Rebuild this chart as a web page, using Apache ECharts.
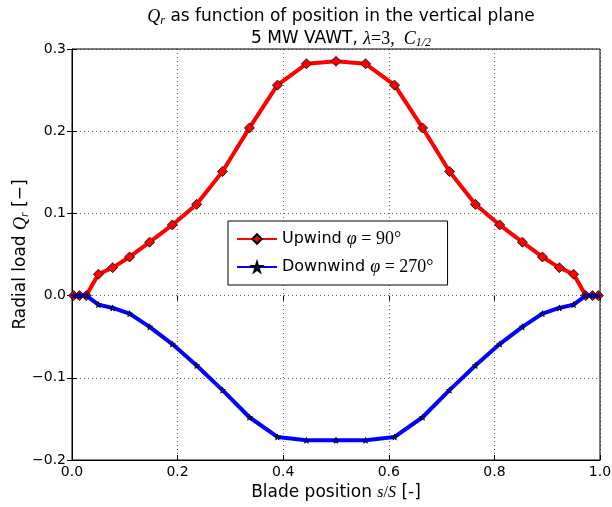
<!DOCTYPE html>
<html>
<head>
<meta charset="utf-8">
<script src="https://cdn.jsdelivr.net/npm/echarts@6/dist/echarts.min.js"></script>
<style>
  html, body { margin: 0; padding: 0; background: #fff; }
  #chart { width: 612px; height: 507px; }
</style>
</head>
<body>
<div id="chart"></div>
<script>
// blade position s/S of each station
const bladePos = [0.003, 0.014, 0.027, 0.05, 0.077, 0.109, 0.147, 0.19, 0.236, 0.285, 0.336, 0.389, 0.444, 0.5,
                  0.556, 0.611, 0.664, 0.715, 0.764, 0.81, 0.853, 0.891, 0.923, 0.95, 0.973, 0.986, 0.997];
// radial load Q_r, upwind (phi = 90)
const upwind = [0, 0, 0, 0.026, 0.034, 0.047, 0.065, 0.086, 0.111, 0.151, 0.204, 0.256, 0.282, 0.285,
                0.282, 0.256, 0.204, 0.151, 0.111, 0.086, 0.065, 0.047, 0.034, 0.026, 0, 0, 0];
// radial load Q_r, downwind (phi = 270)
const downwind = [0, 0, 0, -0.011, -0.015, -0.022, -0.038, -0.059, -0.085, -0.115, -0.148, -0.172, -0.176, -0.176,
                  -0.176, -0.172, -0.148, -0.115, -0.085, -0.059, -0.038, -0.022, -0.015, -0.011, 0, 0, 0];

const chart = echarts.init(document.getElementById('chart'));

const mathFont = 'Liberation Serif';
const baseFont = 'DejaVu Sans';
const rich = {
  m: { fontFamily: mathFont, fontStyle: 'italic', fontSize: 18, color: '#000' },
  n: { fontFamily: mathFont, fontSize: 18, color: '#000' },
  s: { fontFamily: mathFont, fontStyle: 'italic', fontSize: 12, color: '#000', padding: [8, 0, 0, 0] },
  t: { fontFamily: baseFont, fontSize: 17, color: '#000' }
};

const starPath = 'path://M50,0 L61,35 L98,35 L68,57 L79,91 L50,70 L21,91 L32,57 L2,35 L39,35 Z';
const fmt = v => {
  const s = Math.abs(v) < 1e-9 ? '0.0' : v.toFixed(1);
  return s.replace('-', '\u2212');
};
const tickStyle = { show: true, inside: true, length: 5, lineStyle: { color: '#000' } };
const gridLine = { show: true, lineStyle: { color: '#000', type: [1, 3], width: 1, opacity: 0.6 } };

const option = {
  animation: false,
  backgroundColor: '#fff',
  title: {
    left: 336,
    top: 1,
    textAlign: 'center',
    text: '{m|Q}{s|r}{t| as function of position in the vertical plane}\n{t|5 MW VAWT, }{m|λ}{n|=3,  }{m|C}{s|1/2}',
    textStyle: { fontFamily: baseFont, fontSize: 17, fontWeight: 'normal', color: '#000', lineHeight: 22, rich: rich }
  },
  legend: {
    left: 228,
    top: 221,
    orient: 'vertical',
    backgroundColor: '#fff',
    borderColor: '#000',
    borderWidth: 1,
    borderRadius: 0,
    padding: [9, 14, 9, 8],
    itemGap: 10,
    itemWidth: 40,
    itemHeight: 12,
    textStyle: {
      fontFamily: baseFont, fontSize: 16, color: '#000',
      rich: {
        m: { fontFamily: mathFont, fontStyle: 'italic', fontSize: 18, color: '#000' },
        n: { fontFamily: mathFont, fontSize: 18, color: '#000' }
      }
    },
    formatter: name => name === 'Upwind' ? 'Upwind {m|φ}{n| = 90°}' : 'Downwind {m|φ}{n| = 270°}',
    data: ['Upwind', 'Downwind']
  },
  grid: { left: 72, right: 12, top: 49, bottom: 47, outerBoundsMode: 'none', containLabel: false,
          show: true, borderColor: '#000', borderWidth: 1 },
  xAxis: [{
    type: 'value', min: 0, max: 1, interval: 0.2,
    name: 'Blade position {m|s}{n|/}{m|S}{t| [-]}',
    nameLocation: 'middle', nameGap: 24,
    nameTextStyle: { fontFamily: baseFont, fontSize: 17, color: '#000',
      rich: { m: { fontFamily: mathFont, fontStyle: 'italic', fontSize: 16, color: '#000' },
              n: { fontFamily: mathFont, fontSize: 16, color: '#000' },
              t: { fontFamily: baseFont, fontSize: 17, color: '#000' } } },
    axisLine: { show: true, onZero: false, lineStyle: { color: '#000' } },
    axisTick: tickStyle,
    axisLabel: { fontFamily: baseFont, fontSize: 14, color: '#000', margin: 5, formatter: fmt },
    splitLine: gridLine
  }, {
    type: 'value', min: 0, max: 1, interval: 0.2, position: 'top',
    axisLine: { show: false },
    axisTick: tickStyle,
    axisLabel: { show: false }, splitLine: { show: false }
  }],
  yAxis: [{
    type: 'value', min: -0.2, max: 0.3, interval: 0.1,
    name: 'Radial load {m|Q}{s|r}{t| [−]}',
    nameLocation: 'middle', nameGap: 41, nameRotate: 90, nameMoveOverlap: false,
    nameTextStyle: { fontFamily: baseFont, fontSize: 17, color: '#000',
      rich: { m: { fontFamily: mathFont, fontStyle: 'italic', fontSize: 18, color: '#000' },
              s: { fontFamily: mathFont, fontStyle: 'italic', fontSize: 12, color: '#000', padding: [8, 0, 0, 0] },
              t: { fontFamily: baseFont, fontSize: 17, color: '#000' } } },
    axisLine: { show: true, onZero: false, lineStyle: { color: '#000' } },
    axisTick: tickStyle,
    axisLabel: { fontFamily: baseFont, fontSize: 14, color: '#000', margin: 6, formatter: fmt },
    splitLine: gridLine
  }, {
    type: 'value', min: -0.2, max: 0.3, interval: 0.1, position: 'right',
    axisLine: { show: false },
    axisTick: tickStyle,
    axisLabel: { show: false }, splitLine: { show: false }
  }],
  series: [{
    name: 'Upwind',
    type: 'line',
    data: bladePos.map((x, i) => [x, upwind[i]]),
    color: '#ff0000',
    lineStyle: { color: '#ff0000', width: 4 },
    symbol: 'diamond',
    symbolSize: 10,
    showAllSymbol: true,
    itemStyle: { color: '#ff0000', borderColor: '#000', borderWidth: 0.8 },
    z: 3
  }, {
    name: 'Downwind',
    type: 'line',
    data: bladePos.map((x, i) => [x, downwind[i]]),
    color: '#0000ff',
    lineStyle: { color: '#0000ff', width: 4 },
    symbol: starPath,
    symbolSize: 6,
    showAllSymbol: true,
    itemStyle: { color: '#0000ff', borderColor: '#000', borderWidth: 0.8 },
    z: 4
  }]
};

chart.setOption(option);
</script>
</body>
</html>
